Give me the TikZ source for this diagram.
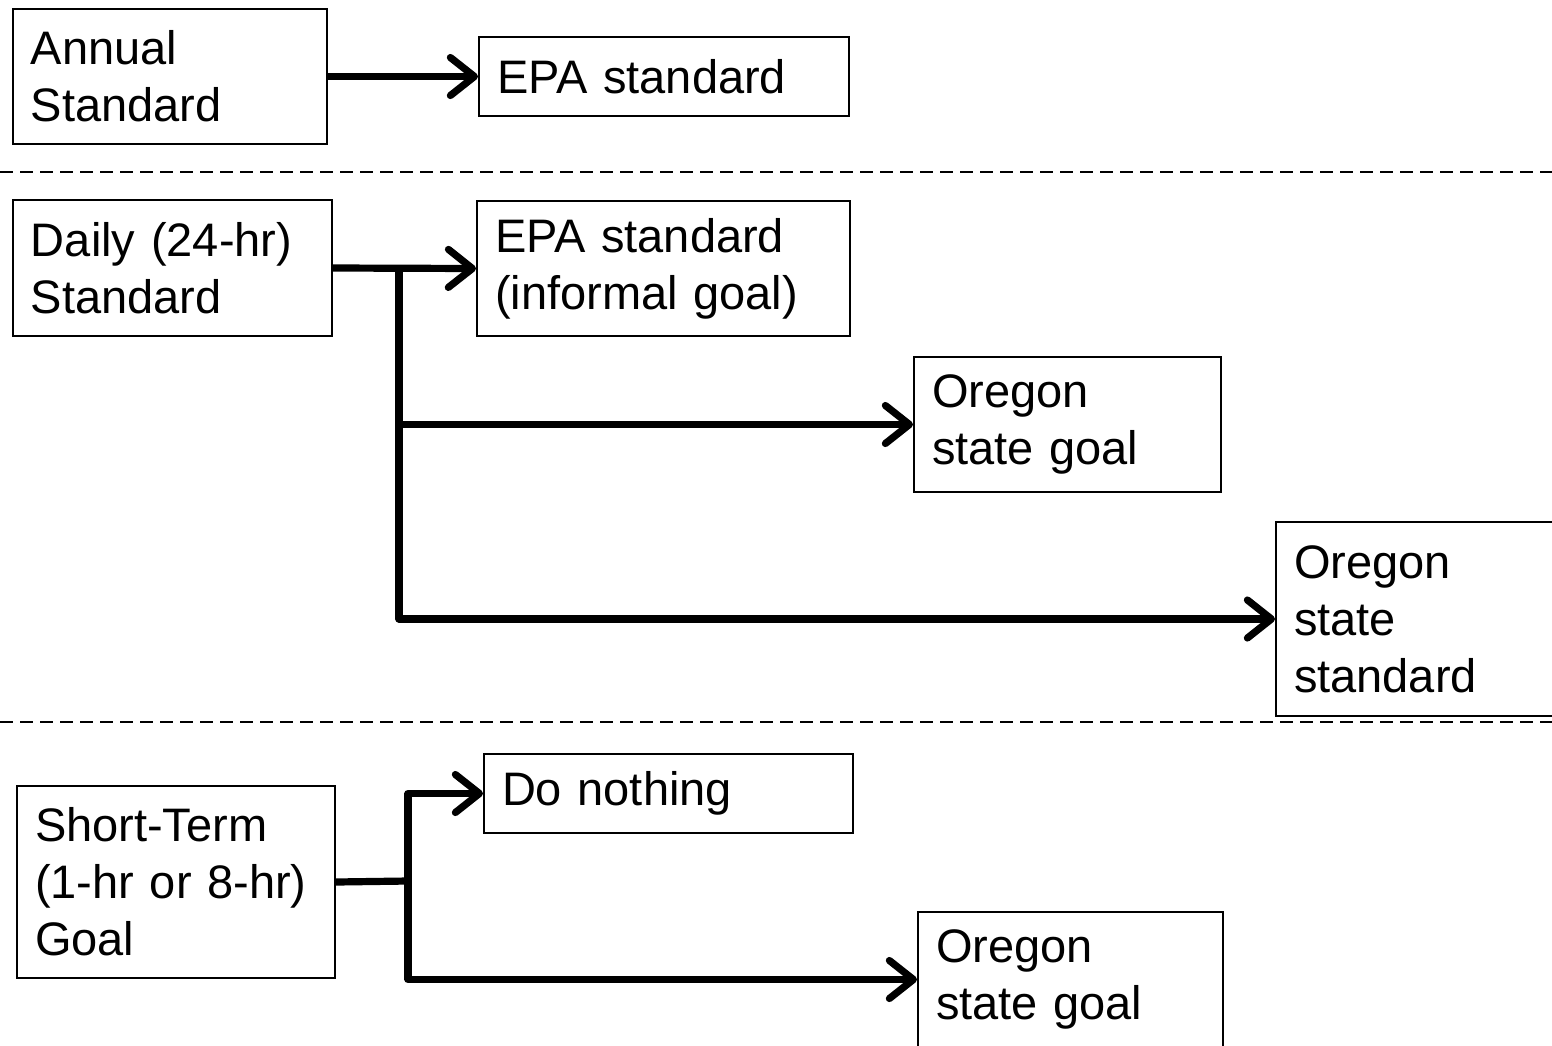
\documentclass[tikz,border=0pt]{standalone}
\usepackage{fontspec}
\setmainfont{Liberation Sans}
\usetikzlibrary{arrows.meta}
\begin{document}
\begin{tikzpicture}[x=0.5pt,y=-0.5pt,
  box/.style={draw, line width=1pt, inner xsep=9pt, inner ysep=0pt, align=left,
    font=\fontsize{23.5}{28.5}\selectfont, anchor=north west},
  arr/.style={line width=3.6pt, line join=round, -{Straight Barb[length=12pt,width=19pt,round]}},
  seprule/.style={line width=1pt, dash pattern=on 6.5pt off 3.5pt}]
\useasboundingbox (0,0) rectangle (1552,1045);
\clip (0,0) rectangle (1552,1045);
\fill[white] (0,0) rectangle (1552,1045);
% boxes
\node[box, minimum width=157pt, minimum height=67.5pt, text width=139pt] (annual) at (12,8) {Annual\\Standard};
\node[box, minimum width=185pt, minimum height=39.5pt, text width=167pt] (epa1) at (478,36) {EPA standard};
\node[box, minimum width=159.5pt, minimum height=68pt, text width=141.5pt] (daily) at (12,199) {Daily (24-hr)\\Standard};
\node[box, minimum width=186.5pt, minimum height=67.5pt, text width=168.5pt] (epa2) at (476,200) {EPA standard\\(informal goal)};
\node[box, minimum width=153.5pt, minimum height=67.5pt, text width=135.5pt] (orgoal1) at (913,356) {Oregon\\state goal};
\node[box, minimum width=160pt, minimum height=97pt, text width=142pt] (orstd) at (1275,521) {Oregon\\state\\standard};
\node[box, minimum width=159pt, minimum height=96pt, text width=141pt] (short) at (16,785) {Short-Term\\(1-hr or 8-hr)\\Goal};
\node[box, minimum width=184.5pt, minimum height=39.5pt, text width=166.5pt] (nothing) at (483,753) {Do nothing};
\node[box, minimum width=152.5pt, minimum height=67.5pt, text width=134.5pt] (orgoal2) at (917,911) {Oregon\\state goal};
% separators
\coordinate (s1a) at (0,172); \coordinate (s1b) at (1552,172);
\coordinate (s2a) at (0,722); \coordinate (s2b) at (1552,722);
\draw[seprule] (s1a) -- (s1b);
\draw[seprule] (s2a) -- (s2b);
% connectors
\draw[arr] (annual.east) -- (epa1.west);
\coordinate (j1) at (399,267);
\draw[arr] (daily.east) -- (epa2.west);
\draw[arr] (j1) |- (orgoal1.west);
\draw[arr] (j1) |- (orstd.west);
\coordinate (j2) at (408,881);
\draw[line width=3.6pt] (short.east) -- (j2);
\draw[arr] (j2) |- (nothing.west);
\draw[arr] (j2) |- (orgoal2.west);
\end{tikzpicture}
\end{document}
